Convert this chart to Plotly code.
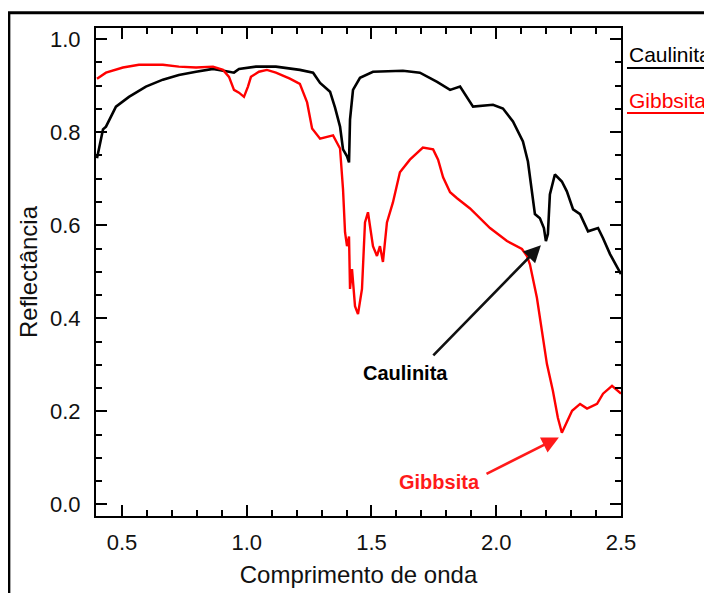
import plotly.graph_objects as go

# Caulinita (kaolinite) spectrum
caul_x = [0.40, 0.424, 0.436, 0.476, 0.528, 0.596, 0.664, 0.728, 0.797, 0.865, 0.929, 0.949, 0.969,
          1.037, 1.117, 1.213, 1.266, 1.294, 1.334, 1.354, 1.374, 1.386, 1.402, 1.410, 1.414, 1.426,
          1.454, 1.506, 1.626, 1.694, 1.763, 1.815, 1.855, 1.907, 1.987, 2.027, 2.067, 2.107, 2.127,
          2.143, 2.155, 2.175, 2.191, 2.199, 2.207, 2.215, 2.235, 2.263, 2.283, 2.308, 2.336, 2.368,
          2.408, 2.428, 2.456, 2.50]
caul_y = [0.744, 0.806, 0.812, 0.855, 0.876, 0.898, 0.913, 0.923, 0.930, 0.936, 0.930, 0.928, 0.936,
          0.941, 0.941, 0.934, 0.928, 0.906, 0.887, 0.853, 0.812, 0.763, 0.748, 0.735, 0.827, 0.891,
          0.917, 0.930, 0.932, 0.928, 0.908, 0.891, 0.898, 0.855, 0.859, 0.851, 0.823, 0.780, 0.737,
          0.666, 0.624, 0.615, 0.594, 0.566, 0.581, 0.666, 0.709, 0.694, 0.673, 0.634, 0.624, 0.587,
          0.594, 0.572, 0.538, 0.495]

# Gibbsita (gibbsite) spectrum
gibb_x = [0.40, 0.436, 0.504, 0.568, 0.664, 0.728, 0.797, 0.865, 0.905, 0.929, 0.949, 0.969, 0.989,
          1.005, 1.017, 1.049, 1.081, 1.117, 1.173, 1.213, 1.242, 1.262, 1.294, 1.346, 1.374, 1.386,
          1.394, 1.402, 1.410, 1.414, 1.422, 1.434, 1.446, 1.462, 1.474, 1.486, 1.506, 1.522, 1.534,
          1.546, 1.562, 1.586, 1.614, 1.654, 1.706, 1.747, 1.767, 1.787, 1.815, 1.843, 1.895, 1.947,
          1.975, 2.043, 2.103, 2.123, 2.135, 2.163, 2.183, 2.203, 2.227, 2.247, 2.263, 2.284, 2.304,
          2.336, 2.364, 2.404, 2.428, 2.464, 2.50]
gibb_y = [0.915, 0.928, 0.939, 0.945, 0.945, 0.941, 0.939, 0.941, 0.934, 0.919, 0.891, 0.885, 0.876,
          0.898, 0.919, 0.930, 0.934, 0.928, 0.915, 0.904, 0.864, 0.808, 0.786, 0.793, 0.765, 0.677,
          0.585, 0.555, 0.576, 0.463, 0.506, 0.426, 0.409, 0.463, 0.606, 0.628, 0.555, 0.534, 0.555,
          0.521, 0.606, 0.649, 0.714, 0.741, 0.767, 0.763, 0.741, 0.703, 0.671, 0.658, 0.636, 0.609,
          0.594, 0.566, 0.549, 0.534, 0.516, 0.444, 0.373, 0.302, 0.244, 0.186, 0.154, 0.180, 0.201,
          0.216, 0.206, 0.216, 0.238, 0.255, 0.238]

names = ["Caulinita", "Gibbsita"]
colors = ["#000000", "#ff0000"]
x_ticks = [0.5, 1.0, 1.5, 2.0, 2.5]
x_ticklabels = ["0.5", "1.0", "1.5", "2.0", "2.5"]
y_ticks = [0.0, 0.2, 0.4, 0.6, 0.8, 1.0]
y_ticklabels = ["0.0", "0.2", "0.4", "0.6", "0.8", "1.0"]

FONT = "Liberation Sans, Arial, sans-serif"

fig = go.Figure()
fig.add_trace(go.Scatter(x=caul_x, y=caul_y, mode="lines", name=names[0],
                         line=dict(color=colors[0], width=2.6)))
fig.add_trace(go.Scatter(x=gibb_x, y=gibb_y, mode="lines", name=names[1],
                         line=dict(color=colors[1], width=2.4)))

axis_common = dict(showline=True, linecolor="#000000", linewidth=2, mirror="allticks",
                   ticks="inside", ticklen=11, tickwidth=1.5, tickcolor="#000000",
                   showgrid=False, zeroline=False, automargin=False,
                   tickfont=dict(family=FONT, size=22, color="#111111"))

fig.update_xaxes(range=[0.396, 2.5], tickvals=x_ticks, ticktext=x_ticklabels,
                 ticklabelstandoff=6,
                 minor=dict(dtick=0.1, tick0=0.0, ticks="inside", ticklen=6, tickwidth=1.5,
                            tickcolor="#000000"),
                 title=dict(text="Comprimento de onda", font=dict(family=FONT, size=24, color="#111111"),
                            standoff=12),
                 **axis_common)
fig.update_yaxes(range=[-0.025, 1.024], tickvals=y_ticks, ticktext=y_ticklabels,
                 ticklabelstandoff=9,
                 minor=dict(dtick=0.05, tick0=0.0, ticks="inside", ticklen=6, tickwidth=1.5,
                            tickcolor="#000000"),
                 title=dict(text="Reflectância", font=dict(family=FONT, size=24, color="#111111"),
                            standoff=6),
                 **axis_common)

# Arrows + bold labels inside the plot
fig.add_annotation(x=2.179, y=0.557, ax=1.742, ay=0.317, axref="x", ayref="y", xref="x", yref="y",
                   text="", showarrow=True, arrowhead=2, arrowsize=1.3, arrowwidth=2.6,
                   arrowcolor="#111111")
fig.add_annotation(x=2.251, y=0.144, ax=1.955, ay=0.064, axref="x", ayref="y", xref="x", yref="y",
                   text="", showarrow=True, arrowhead=2, arrowsize=1.3, arrowwidth=2.6,
                   arrowcolor="#ff1a1a")
fig.add_annotation(x=1.638, y=0.283, xref="x", yref="y", text="<b>" + names[0] + "</b>",
                   showarrow=False, font=dict(family=FONT, size=20, color="#000000"))
fig.add_annotation(x=1.771, y=0.049, xref="x", yref="y", text="<b>" + names[1] + "</b>",
                   showarrow=False, font=dict(family=FONT, size=20, color="#ff1a1a"))

# Legend-like labels on the right
fig.add_annotation(x=1.0114, y=0.9447, xref="paper", yref="paper", xanchor="left", yanchor="middle",
                   text=names[0], showarrow=False, font=dict(family=FONT, size=21, color=colors[0]))
fig.add_annotation(x=1.0114, y=0.852, xref="paper", yref="paper", xanchor="left", yanchor="middle",
                   text=names[1], showarrow=False, font=dict(family=FONT, size=21, color=colors[1]))
fig.add_shape(type="line", xref="paper", yref="paper", x0=1.0114, x1=1.18, y0=0.918, y1=0.918,
              line=dict(color=colors[0], width=2))
fig.add_shape(type="line", xref="paper", yref="paper", x0=1.0114, x1=1.17, y0=0.8258, y1=0.8258,
              line=dict(color=colors[1], width=2))

# Outer frame (left and top edges)
fig.add_shape(type="line", xref="paper", yref="paper", x0=-0.166, x1=-0.166, y0=1.031, y1=-0.2,
              line=dict(color="#000000", width=3))
fig.add_shape(type="line", xref="paper", yref="paper", x0=-0.168, x1=1.2, y0=1.031, y1=1.031,
              line=dict(color="#000000", width=3))

# The page body adds an 8 px margin, so the figure is 8 px smaller and shifted accordingly
fig.update_layout(width=704, height=585, showlegend=False,
                  margin=dict(l=88, r=91, t=20, b=77),
                  paper_bgcolor="#ffffff", plot_bgcolor="#ffffff",
                  font=dict(family=FONT))

fig.write_html("out.html")
